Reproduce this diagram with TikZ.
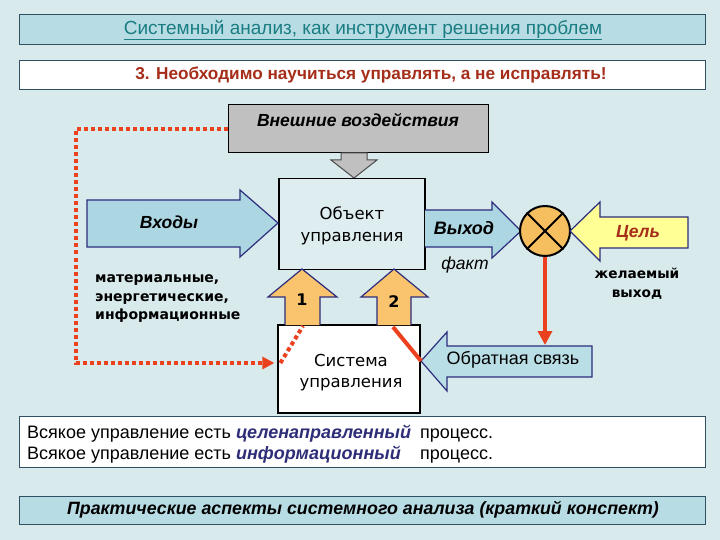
\documentclass[tikz,border=0pt]{standalone}
\usepackage{fontspec}
\setmainfont{Liberation Sans}
\newfontfamily\dejavu{DejaVu Sans}
\usetikzlibrary{arrows.meta}
\definecolor{bgc}{RGB}{216,234,236}
\definecolor{titlefill}{RGB}{184,220,228}
\definecolor{boxborder}{RGB}{50,80,100}
\definecolor{tealT}{RGB}{25,125,130}
\definecolor{darkredT}{RGB}{165,45,25}
\definecolor{navyB}{RGB}{45,45,125}
\definecolor{orangeA}{RGB}{250,196,110}
\definecolor{circleO}{RGB}{245,190,95}
\definecolor{yellowA}{RGB}{255,255,150}
\definecolor{blueA}{RGB}{172,214,226}
\definecolor{blueB}{RGB}{185,222,230}
\definecolor{redL}{RGB}{235,65,30}
\definecolor{grayB}{RGB}{192,192,192}
\definecolor{purpleT}{RGB}{45,45,120}
\tikzset{
  band/.style={draw=boxborder, line width=1pt, minimum width=686pt, inner sep=0pt},
  blockbox/.style={draw=black, line width=1.3pt, inner sep=0pt},
  shapearrow/.style={draw=navyB, line width=1.2pt, line join=miter},
  reddot/.style={draw=redL, line width=4pt, dash pattern=on 4pt off 3pt},
  redline/.style={draw=redL, line width=4pt},
  lbl/.style={inner sep=0pt, align=center},
}
\begin{document}
\begin{tikzpicture}[x=1pt,y=-1pt]
\useasboundingbox (0,0) rectangle (720,540);
\fill[bgc] (0,0) rectangle (720,540);

% header bands
\node[band, fill=titlefill, minimum height=30pt] (title) at (362,30) {};
\node[lbl, text=tealT, font=\fontsize{19}{22}\selectfont] (titletext) at (363,30) {\underline{Системный анализ, как инструмент решения проблем}};
\node[band, fill=white, minimum height=29pt] (sub) at (362,75) {};
\node[lbl, text=darkredT, font=\bfseries\fontsize{17.2}{20}\selectfont] (subtext) at (371,75) {3. Необходимо научиться управлять, а не исправлять!};

% external influences
\node[blockbox, line width=1pt, fill=grayB, minimum width=260pt, minimum height=48pt] (vozd) at (358,129) {};
\node[lbl, font=\bfseries\itshape\fontsize{17.5}{20}\selectfont] (vozdtext) at (358,120) {Внешние воздействия};
\draw[draw=black!70, line width=1pt, fill=grayB] (341,153) -- (367,153) -- (367,160) -- (377,160) -- (354,178) -- (331,160) -- (341,160) -- cycle;

% object box
\node[blockbox, fill=bgc!85!white, minimum width=146pt, minimum height=91pt] (obj) at (352,224) {};
\node[lbl, font=\dejavu\fontsize{16.5}{22}\selectfont] (objtext) at (352,226) {Объект\\управления};

% inputs arrow
\draw[shapearrow, fill=blueA] (87,200) -- (240,200) -- (240,190) -- (278,223) -- (240,257) -- (240,247) -- (87,247) -- cycle;
\node[lbl, font=\bfseries\itshape\fontsize{17.5}{20}\selectfont] (vhody) at (169,222) {Входы};
\node[lbl, anchor=west, align=left, font=\dejavu\bfseries\fontsize{14}{18.5}\selectfont] (mat) at (95,299) {материальные,\\энергетические,\\информационные};

% control system box
\node[blockbox, fill=white, minimum width=142pt, minimum height=88pt] (sys) at (349,369) {};
\node[lbl, font=\dejavu\fontsize{16.5}{21}\selectfont] (systext) at (351,373) {Система\\управления};

% up arrows 1 and 2
\draw[shapearrow, fill=orangeA] (285,325) -- (285,297) -- (268,297) -- (302,269) -- (337,297) -- (320,297) -- (320,325);
\draw[shapearrow, fill=orangeA] (377,325) -- (377,297) -- (361,297) -- (394,269) -- (428,297) -- (411,297) -- (411,325);
\node[lbl, font=\dejavu\bfseries\fontsize{16}{19}\selectfont] (n1) at (302,300) {1};
\node[lbl, font=\dejavu\bfseries\fontsize{16}{19}\selectfont] (n2) at (394,302) {2};
\coordinate (a1base) at (303,326);
\coordinate (a2base) at (393,327);

% output arrow
\draw[shapearrow, fill=blueA] (425,210) -- (492,210) -- (492,202) -- (521,231) -- (492,258) -- (492,247) -- (425,247);
\node[lbl, font=\bfseries\itshape\fontsize{18}{21}\selectfont] (vyhod) at (464,228) {Выход};
\node[lbl, font=\itshape\fontsize{17.5}{20}\selectfont] (fakt) at (465,265) {факт};

% comparator
\node[circle, draw=black, line width=2pt, fill=circleO, minimum size=50pt, inner sep=0pt] (cmp) at (545,231) {};
\draw[line width=2pt] (cmp.north west) -- (cmp.south east);
\draw[line width=2pt] (cmp.north east) -- (cmp.south west);

% goal arrow
\draw[shapearrow, fill=yellowA] (688,217) -- (600,217) -- (600,202) -- (570,231) -- (600,261) -- (600,248) -- (688,248) -- cycle;
\node[lbl, text=darkredT, font=\bfseries\itshape\fontsize{17.5}{20}\selectfont] (cel) at (638,233) {Цель};
\node[lbl, font=\dejavu\bfseries\fontsize{13.7}{19}\selectfont] (zhel) at (637,284) {желаемый\\выход};

% feedback arrow
\draw[shapearrow, fill=blueB] (592,346) -- (447,346) -- (447,332) -- (421,361) -- (447,391) -- (447,377) -- (592,377) -- cycle;
\coordinate (fbtip) at (421,361);
\node[lbl, font=\fontsize{18}{21}\selectfont] (fb) at (513,360) {Обратная связь};

% red vertical arrow from comparator
\coordinate (fbtop) at (545,345);
\draw[redline, -{Triangle[length=14pt,width=14pt]}] (cmp.south) -- (fbtop);

% red solid line from arrow 2 to feedback arrow
\draw[redline] (a2base) -- (fbtip);

% dotted feedback loop
\draw[reddot, -{Triangle[length=12pt,width=12pt]}] (vozd.west) -| (76,363) -- ([yshift=6pt,xshift=-3pt]sys.west);
\draw[reddot] ([yshift=6pt,xshift=3pt]sys.west) -- (a1base);

% statement box
\node[band, fill=white, minimum height=51pt] (stmt) at (362,442) {};
\node[lbl, anchor=base west, font=\fontsize{18}{21}\selectfont] (s1) at (27,438) {Всякое управление есть \textcolor{purpleT}{\bfseries\itshape целенаправленный}};
\node[lbl, anchor=base west, font=\fontsize{18}{21}\selectfont] (s2) at (27,459) {Всякое управление есть \textcolor{purpleT}{\bfseries\itshape информационный}};
\node[lbl, anchor=base west, font=\fontsize{18}{21}\selectfont] (p1) at (420,438) {процесс.};
\node[lbl, anchor=base west, font=\fontsize{18}{21}\selectfont] (p2) at (420,459) {процесс.};

% footer band
\node[band, fill=titlefill, minimum height=28pt] (foot) at (362,510) {};
\node[lbl, font=\bfseries\itshape\fontsize{17.8}{20}\selectfont] (foottext) at (363,510) {Практические аспекты системного анализа (краткий конспект)};
\end{tikzpicture}
\end{document}
